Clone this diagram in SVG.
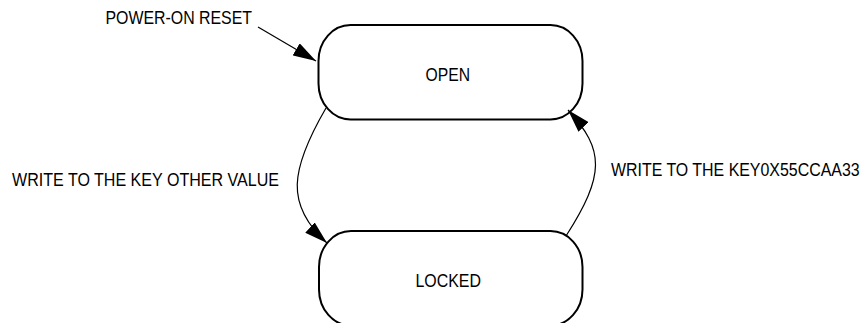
<svg xmlns="http://www.w3.org/2000/svg" width="867" height="323" viewBox="0 0 867 323">
<style>
.node{fill:#fff;stroke:#000;stroke-width:2}
.edge{fill:none;stroke:#000;stroke-width:1.2}
text{font-family:"Liberation Sans",Arial,sans-serif;font-size:18px;fill:#000}
</style>
<defs>
<marker id="ah" markerUnits="userSpaceOnUse" markerWidth="24" markerHeight="14" viewBox="0 0 24 14" refX="23" refY="7" orient="auto">
<path d="M0,0 L23,7 L0,14 Z" fill="#000"/>
</marker>
</defs>
<rect width="867" height="323" fill="#fff"/>
<g id="open">
<rect class="node" x="318.5" y="25" width="264" height="94.5" rx="32" ry="36"/>
<text x="425.5" y="80.5" textLength="44.5" lengthAdjust="spacingAndGlyphs">OPEN</text>
</g>
<g id="locked">
<rect class="node" x="319" y="231" width="263.5" height="94.5" rx="32" ry="36"/>
<text x="415.5" y="286.5" textLength="65.5" lengthAdjust="spacingAndGlyphs">LOCKED</text>
</g>
<g id="connectors">
<path class="edge" d="M258,27 L316,61" marker-end="url(#ah)"/>
<path class="edge" d="M326,108 C290,170 285,205 327,243" marker-end="url(#ah)"/>
<path class="edge" d="M566,236 C605,175 605,150 568,110" marker-end="url(#ah)"/>
</g>
<g id="labels">
<text x="105.5" y="24" textLength="146.5" lengthAdjust="spacingAndGlyphs">POWER-ON RESET</text>
<text x="12" y="186" textLength="267" lengthAdjust="spacingAndGlyphs">WRITE TO THE KEY OTHER VALUE</text>
<text transform="translate(611,176) scale(0.885,1)" x="0" y="0">WRITE TO THE KEY0X55CCAA33</text>
</g>
</svg>
